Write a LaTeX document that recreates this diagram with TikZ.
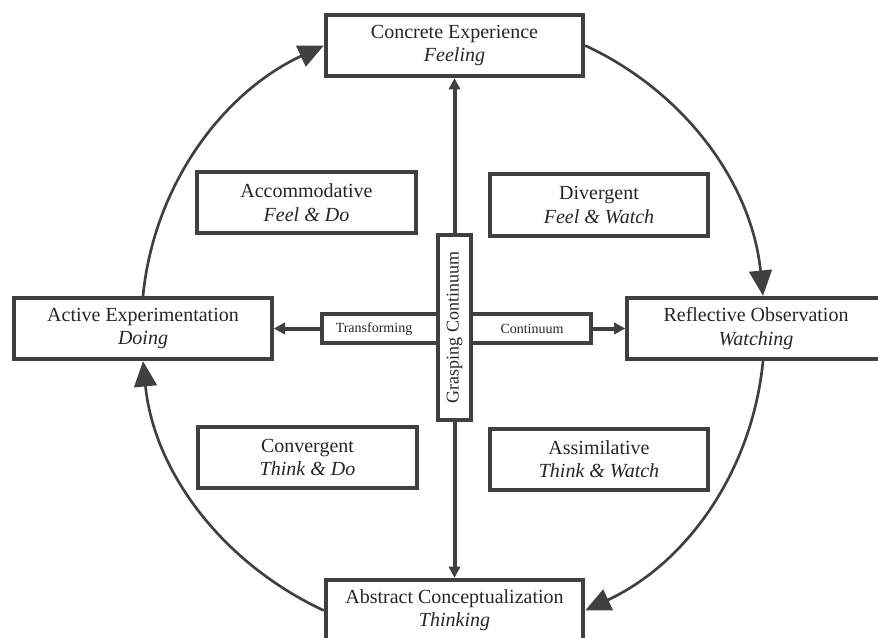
\documentclass[tikz,border=0pt]{standalone}
\usepackage{fontspec}
\setmainfont{Liberation Serif}
\usetikzlibrary{arrows.meta,calc}
\definecolor{boxgray}{HTML}{404040}
\tikzset{
  stagebox/.style={draw=boxgray, line width=3pt, fill=white, text=black!85, minimum width=193pt, minimum height=46pt, inner sep=0pt, align=center, font=\fontsize{15}{17.5}\selectfont},
  stylebox/.style={stagebox, minimum width=164pt},
  axisbox/.style={draw=boxgray, line width=3pt, fill=white, text=black!85, inner sep=0pt},
  smalllabel/.style={text=black!85, inner sep=0pt, font=\fontsize{10.5}{12}\selectfont},
  cyclearrow/.style={draw=boxgray, line width=2pt, -{Triangle[length=19pt,width=17pt]}},
  axisarrow/.style={draw=boxgray, line width=3pt, -{Triangle[length=8.5pt,width=8.5pt]}}
}
\begin{document}
\begin{tikzpicture}[x=0.75pt,y=0.75pt,yscale=-1,xscale=1]
	\path[use as bounding box] (0,0) rectangle (878,638);
	\clip (0,0) rectangle (878,638);
	\node[stagebox] (ce) at (454.5,45.5) {Concrete Experience\\\textit{Feeling}};
	\node[stagebox] (ae) at (143,328.5) {Active Experimentation\\\textit{Doing}};
	\node[stagebox] (ro) at (756,328.5) {Reflective Observation\\\textit{Watching}};
	\node[stagebox] (bc) at (454.5,610.5) {Abstract Conceptualization\\\textit{Thinking}};
	\node[stylebox] (acc) at (306.5,202.5) {Accommodative\\\textit{Feel \& Do}};
	\node[stylebox] (div) at (599,205) {Divergent\\\textit{Feel \& Watch}};
	\node[stylebox] (con) at (307.5,457.5) {Convergent\\\textit{Think \& Do}};
	\node[stylebox] (asm) at (599,459.5) {Assimilative\\\textit{Think \& Watch}};
	\node[axisbox, minimum width=201.75pt, minimum height=21.75pt] (hbox) at (456.5,328.5) {};
	\node[axisbox, rotate=90, minimum width=138.75pt, minimum height=24.75pt, font=\fontsize{13.5}{15}\selectfont] (vbox) at (454.5,327.5) {Grasping Continuum};
	\node[smalllabel] (trf) at (374,329) {Transforming};
	\node[smalllabel] (cnt) at (532,329) {Continuum};
	\draw[axisarrow] (vbox) -- (ce);
	\draw[axisarrow] (vbox) -- (bc);
	\draw[axisarrow] (hbox) -- (ae);
	\draw[axisarrow] (hbox) -- (ro);
	\draw[cyclearrow] (ae.north) .. controls +(11,-111) and +(-101,47) .. (ce.west);
	\draw[cyclearrow] (ce.east) .. controls +(101,47) and +(-11,-111) .. ($(ro.north)+(7,0)$);
	\draw[cyclearrow] ($(ro.south)+(7,0)$) .. controls +(-11,111) and +(101,-47) .. (bc.east);
	\draw[cyclearrow] (bc.west) .. controls +(-101,-47) and +(11,111) .. (ae.south);
\end{tikzpicture}
\end{document}
